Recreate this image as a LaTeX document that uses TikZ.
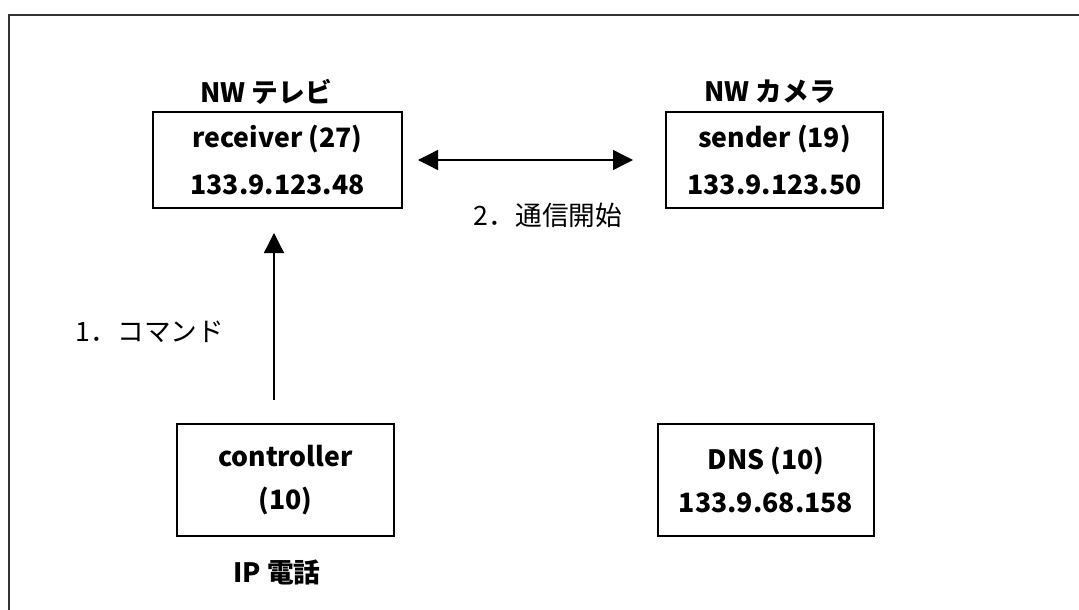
\documentclass[tikz,border=0pt]{standalone}
\usepackage{fontspec}
\setmainfont{Noto Sans CJK JP}
\usetikzlibrary{arrows.meta}
\begin{document}
\begin{tikzpicture}[x=0.75pt, y=-0.75pt, font=\fontsize{20pt}{24pt}\selectfont,
		>={Triangle[length=15pt,width=15pt]},
		box/.style={draw, line width=1.2pt, align=center, inner sep=0pt, font=\fontsize{20pt}{24pt}\selectfont\bfseries},
		msg/.style={line width=1pt}]
			\useasboundingbox (0, 0) rectangle (1079, 610);
			\draw[line width=1.8pt, black!80] (9, 610) -- (9, 15) -- (1079, 15);
			\node[box, minimum width=186.75pt, minimum height=72pt] (N_recv) at (277.5, 160) {receiver (27)\\[11pt]133.9.123.48};
			\node[box, minimum width=162.75pt, minimum height=72pt] (N_send) at (774.5, 160) {sender (19)\\[11pt]133.9.123.50};
			\node[box, minimum width=162.75pt, minimum height=84pt] (N_ctrl) at (285.5, 480) {controller\\[8pt](10)};
			\node[box, minimum width=162pt, minimum height=84pt] (N_dns) at (766, 480) {DNS (10)\\[8pt]133.9.68.158};
			\node[font=\fontsize{20pt}{24pt}\selectfont\bfseries] (L_tv) at (266, 92) {NW テレビ};
			\node[font=\fontsize{20pt}{24pt}\selectfont\bfseries] (L_cam) at (770, 92) {NW カメラ};
			\node[font=\fontsize{20pt}{24pt}\selectfont\bfseries] (L_phone) at (277, 572) {IP 電話};
			\node (L_cmd) at (150, 332) {1．コマンド};
			\node (L_start) at (548, 215) {2．通信開始};
			\coordinate (C_cmd0) at (274, 400);
			\coordinate (C_cmd1) at (274, 233);
			\coordinate (C_msg0) at (418, 160);
			\coordinate (C_msg1) at (633, 160);
			\draw[msg, ->] (C_cmd0) -- (C_cmd1);
			\draw[msg, <->] (C_msg0) -- (C_msg1);
		\end{tikzpicture}
\end{document}
